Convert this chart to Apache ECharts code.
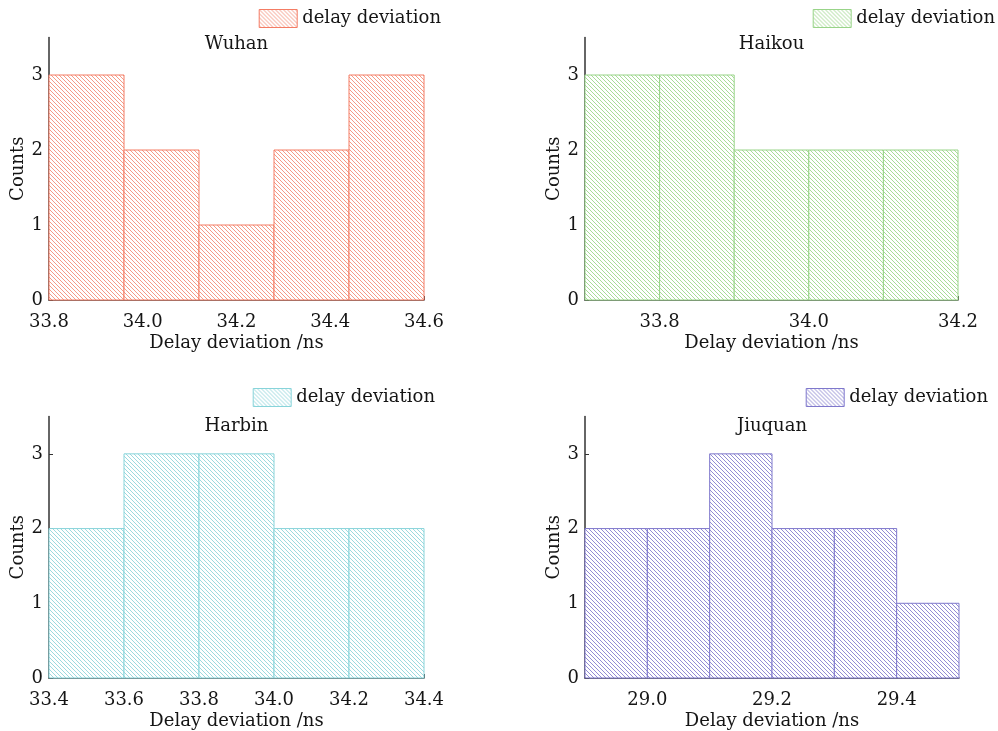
<!DOCTYPE html>
<html>
<head>
<meta charset="utf-8">
<script src="https://cdn.jsdelivr.net/npm/echarts@6/dist/echarts.min.js"></script>
<style>
  html, body { margin: 0; padding: 0; background: #fff; }
  #main { width: 998px; height: 731px; }
</style>
</head>
<body>
<div id="main"></div>
<script>
// 四个站点的延迟偏差直方图
var stations = ['Wuhan', 'Haikou', 'Harbin', 'Jiuquan'];
var legendName = 'delay deviation';

// 各站点的分箱边界
var wuhanEdges = [33.8, 33.96, 34.12, 34.28, 34.44, 34.6];
var haikouEdges = [33.7, 33.8, 33.9, 34.0, 34.1, 34.2];
var harbinEdges = [33.4, 33.6, 33.8, 34.0, 34.2, 34.4];
var jiuquanEdges = [28.9, 29.0, 29.1, 29.2, 29.3, 29.4, 29.5];

// 各分箱计数
var wuhanCounts = [3, 2, 1, 2, 3];
var haikouCounts = [3, 3, 2, 2, 2];
var harbinCounts = [2, 3, 3, 2, 2];
var jiuquanCounts = [2, 2, 3, 2, 2, 1];

// 横轴刻度
var wuhanTicks = [33.8, 34.0, 34.2, 34.4, 34.6];
var haikouTicks = [33.8, 34.0, 34.2];
var harbinTicks = [33.4, 33.6, 33.8, 34.0, 34.2, 34.4];
var jiuquanTicks = [29.0, 29.2, 29.4];
var countTicks = [0, 1, 2, 3];

var allEdges = [wuhanEdges, haikouEdges, harbinEdges, jiuquanEdges];
var allCounts = [wuhanCounts, haikouCounts, harbinCounts, jiuquanCounts];
var allTicks = [wuhanTicks, haikouTicks, harbinTicks, jiuquanTicks];

var lineColors = ['#f47c64', '#98d488', '#88d4da', '#7f78cc'];
var hatchColors = ['#f59a87', '#a8dc98', '#9cdadf', '#938dd4'];

var grids = [
    {left: 49, top: 37.5, width: 375, height: 262.5},
    {left: 585, top: 37.5, width: 373, height: 262.5},
    {left: 49, top: 416.5, width: 375, height: 262.5},
    {left: 585, top: 416.5, width: 374, height: 262.5}
];
var legendPos = [
    {right: 557, top: 9},
    {right: 3, top: 9},
    {right: 563, top: 388},
    {right: 10, top: 388}
];

var font = '"DejaVu Serif", "Liberation Serif", serif';
var ink = '#151515';

// 斜线填充
function makeHatch(color) {
    var c = document.createElement('canvas');
    c.width = 4;
    c.height = 4;
    var ctx = c.getContext('2d');
    ctx.fillStyle = '#fff';
    ctx.fillRect(0, 0, 4, 4);
    ctx.strokeStyle = color;
    ctx.lineWidth = 1;
    ctx.beginPath();
    ctx.moveTo(-1, -1); ctx.lineTo(5, 5);
    ctx.moveTo(-1, 3); ctx.lineTo(1, 5);
    ctx.moveTo(3, -1); ctx.lineTo(5, 1);
    ctx.stroke();
    return {image: c, repeat: 'repeat'};
}

var option = {
    animation: false,
    textStyle: {fontFamily: font},
    grid: grids,
    title: [],
    legend: [],
    xAxis: [],
    yAxis: [],
    series: []
};

for (var i = 0; i < 4; i++) {
    var edges = allEdges[i];
    var counts = allCounts[i];
    var g = grids[i];
    var data = [];
    for (var k = 0; k < counts.length; k++) {
        data.push([edges[k], edges[k + 1], counts[k]]);
    }
    var hatch = makeHatch(hatchColors[i]);

    option.title.push({
        text: stations[i],
        left: g.left + g.width / 2,
        top: i < 2 ? 35 : 417,
        padding: 0,
        textAlign: 'center',
        textStyle: {fontFamily: font, fontSize: 18, fontWeight: 'normal', color: ink}
    });

    option.legend.push({
        data: [{name: legendName + ' ' + i}],
        right: legendPos[i].right,
        top: legendPos[i].top,
        padding: 0,
        itemWidth: 38,
        itemHeight: 18,
        itemGap: 6,
        icon: 'rect',
        formatter: function () { return legendName; },
        textStyle: {fontFamily: font, fontSize: 18, color: ink},
        itemStyle: {color: hatch, borderColor: lineColors[i], borderWidth: 1}
    });

    option.xAxis.push({
        type: 'value',
        gridIndex: i,
        min: edges[0],
        max: edges[edges.length - 1],
        name: 'Delay deviation /ns',
        nameLocation: 'middle',
        nameGap: 34,
        nameTextStyle: {fontFamily: font, fontSize: 18, color: ink},
        splitLine: {show: false},
        axisLine: {lineStyle: {color: '#333', width: 1.5}},
        axisTick: {inside: true, length: 4, customValues: allTicks[i], lineStyle: {color: '#333'}},
        axisLabel: {
            customValues: allTicks[i],
            margin: 13,
            fontFamily: font, fontSize: 18, color: ink,
            formatter: function (v) { return v.toFixed(1); }
        }
    });

    option.yAxis.push({
        type: 'value',
        gridIndex: i,
        min: 0,
        max: 3.5,
        name: 'Counts',
        nameLocation: 'middle',
        nameGap: 21,
        nameTextStyle: {fontFamily: font, fontSize: 18, color: ink},
        splitLine: {show: false},
        axisLine: {lineStyle: {color: '#333', width: 1.5}},
        axisTick: {inside: true, length: 4, customValues: countTicks, lineStyle: {color: '#333'}},
        axisLabel: {
            customValues: countTicks,
            margin: 6,
            fontFamily: font, fontSize: 18, color: ink
        }
    });

    option.series.push({
        name: legendName + ' ' + i,
        type: 'custom',
        xAxisIndex: i,
        yAxisIndex: i,
        itemStyle: {color: hatch, borderColor: lineColors[i], borderWidth: 1},
        encode: {x: [0, 1], y: 2},
        data: data,
        renderItem: (function (hatchFill, stroke) {
            return function (params, api) {
                var p0 = api.coord([api.value(0), api.value(2)]);
                var p1 = api.coord([api.value(1), 0]);
                return {
                    type: 'rect',
                    shape: {x: p0[0], y: p0[1], width: p1[0] - p0[0], height: p1[1] - p0[1]},
                    style: {fill: hatchFill, stroke: stroke, lineWidth: 1}
                };
            };
        })(hatch, lineColors[i])
    });
}

var myChart = echarts.init(document.getElementById('main'));
myChart.setOption(option);
</script>
</body>
</html>
